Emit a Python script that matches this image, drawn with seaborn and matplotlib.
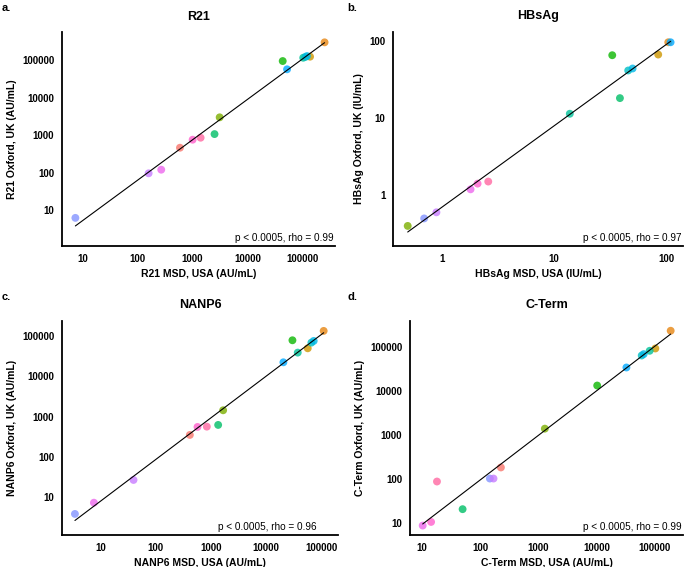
import numpy as np
import pandas as pd
import matplotlib
matplotlib.use("Agg")
import matplotlib.pyplot as plt
import seaborn as sns
from matplotlib.ticker import FixedLocator, FuncFormatter, NullLocator

sns.set_style("white")
plt.rcParams["font.family"] = ["Liberation Sans", "DejaVu Sans"]
plt.rcParams["text.color"] = "black"
plt.rcParams["axes.labelcolor"] = "black"
plt.rcParams["xtick.color"] = "black"
plt.rcParams["ytick.color"] = "black"

# ---- data (one entry per sample, NaN = not shown) ----
samples = ["S01", "S02", "S03", "S04", "S05", "S06", "S07", "S08",
           "S09", "S10", "S11", "S12", "S13", "S14", "S15"]
sample_colors = ["#F8766D", "#E68613", "#CD9600", "#7CAE00", "#0CB702",
                 "#00BE67", "#00C19A", "#00BFC4", "#00B8E7", "#00A9FF",
                 "#8494FF", "#C77CFF", "#ED68ED", "#FF61CC", "#FF68A1"]

r21_usa = [587, 258000, 140000, 3120, 44300, 2515, 105000, 115000, 123000,
           53200, 7.2, 157, 267, 1000, 1400]
r21_uk = [463, 302000, 125000, 3000, 95600, 1071, 117000, 123000, 130000,
          57500, 6.2, 96, 120, 758, 857]

hbsag_usa = [np.nan, 103.5, 84.3, 0.50, 32.9, 38.5, 13.8, 45.6, 49.9,
             108.6, 0.70, 0.90, 1.81, 2.09, 2.60]
hbsag_uk = [np.nan, 95, 65.9, 0.40, 64.6, 18.0, 11.3, 41.0, 43.5,
            95, 0.50, 0.60, 1.19, 1.41, 1.50]

nanp6_usa = [414, 110000, 56600, 1660, 29900, 1349, 37300, 65900, 72600,
             20500, 3.43, 39.5, 7.57, 570, 841]
nanp6_uk = [350, 136000, 50200, 1438, 79500, 621, 39200, 69500, 76600,
            22500, 3.78, 26.5, 7.2, 553, 563]

cterm_usa = [229, 188000, 102600, 1300, 10300, 50.4, 82000, 59800, 64700,
             32700, 148, 171, 10.4, 14.5, 18.3]
cterm_uk = [186, 240000, 94800, 1420, 13600, 20.9, 84000, 65600, 70500,
            35000, 104, 104, 8.85, 10.7, 89]

panel_letters = ["a.", "b.", "c.", "d."]
titles = ["R21", "HBsAg", "NANP6", "C-Term"]
xlabels = ["R21 MSD, USA (AU/mL)", "HBsAg MSD, USA (IU/mL)",
           "NANP6 MSD, USA (AU/mL)", "C-Term MSD, USA (AU/mL)"]
ylabels = ["R21 Oxford, UK (AU/mL)", "HBsAg Oxford, UK (IU/mL)",
           "NANP6 Oxford, UK (AU/mL)", "C-Term Oxford, UK (AU/mL)"]
stats = ["p < 0.0005, rho = 0.99", "p < 0.0005, rho = 0.97",
         "p < 0.0005, rho = 0.96", "p < 0.0005, rho = 0.99"]
decade_ticks = [10, 100, 1000, 10000, 100000]
small_ticks = [1, 10, 100]

panels = [
    dict(x=r21_usa, y=r21_uk, xlim=(4.1, 4.0e5), ylim=(1.1, 5.7e5),
         xt=decade_ticks, yt=decade_ticks, pos=(62, 32, 335, 246), sx=0.995),
    dict(x=hbsag_usa, y=hbsag_uk, xlim=(0.37, 140), ylim=(0.22, 129),
         xt=small_ticks, yt=small_ticks, pos=(393, 32, 683, 246), sx=0.995),
    dict(x=nanp6_usa, y=nanp6_uk, xlim=(2.0, 2.0e5), ylim=(1.13, 2.4e5),
         xt=decade_ticks, yt=decade_ticks, pos=(62, 321, 338, 535), sx=0.924),
    dict(x=cterm_usa, y=cterm_uk, xlim=(6.3, 3.06e5), ylim=(5.4, 4.0e5),
         xt=decade_ticks, yt=decade_ticks, pos=(410, 321, 683, 535), sx=0.995),
]

W, H = 685, 567
fig = plt.figure(figsize=(W / 100, H / 100), dpi=100)
palette = dict(zip(samples, sample_colors))
fmt = FuncFormatter(lambda v, p: f"{v:g}")

for i, pn in enumerate(panels):
    l, t, r, b = pn["pos"]
    ax = fig.add_axes([l / W, 1 - b / H, (r - l) / W, (b - t) / H])
    df = pd.DataFrame({"sample": samples, "usa": pn["x"], "uk": pn["y"]})
    ax.set_xscale("log")
    ax.set_yscale("log")
    sns.scatterplot(data=df, x="usa", y="uk", hue="sample", palette=palette,
                    s=32, alpha=0.8, linewidth=0, legend=False, ax=ax, zorder=3)
    d = df.dropna()
    lx, ly = np.log10(d["usa"].values), np.log10(d["uk"].values)
    k, c0 = np.polyfit(lx, ly, 1)
    xs = np.linspace(lx.min(), lx.max(), 50)
    ax.plot(10 ** xs, 10 ** (k * xs + c0), color="black", lw=0.8, zorder=4)

    ax.set_xlim(*pn["xlim"])
    ax.set_ylim(*pn["ylim"])
    ax.xaxis.set_major_locator(FixedLocator(pn["xt"]))
    ax.yaxis.set_major_locator(FixedLocator(pn["yt"]))
    ax.xaxis.set_minor_locator(NullLocator())
    ax.yaxis.set_minor_locator(NullLocator())
    ax.xaxis.set_major_formatter(fmt)
    ax.yaxis.set_major_formatter(fmt)
    for s in ["top", "right"]:
        ax.spines[s].set_visible(False)
    for s in ["left", "bottom"]:
        ax.spines[s].set_linewidth(1.3)
        ax.spines[s].set_color("black")
    ax.tick_params(axis="both", which="major", direction="out", length=3.5,
                   width=1.1, color="black", labelcolor="black",
                   labelsize=7, pad=2)
    for lab in ax.get_xticklabels() + ax.get_yticklabels():
        lab.set_fontweight("bold")
    ax.set_xlabel(xlabels[i], fontsize=7.5, fontweight="bold", labelpad=4,
                  color="black")
    ax.set_ylabel(ylabels[i], fontsize=7.5, fontweight="bold", labelpad=4,
                  color="black")
    ax.set_title(titles[i], fontsize=9, fontweight="bold", pad=9,
                 color="black")
    ax.text(pn["sx"], 0.025, stats[i], transform=ax.transAxes, ha="right",
            va="baseline", fontsize=7.2, color="black")
    ax.grid(False)

fig.text(2 / W, 1 - 3 / H, panel_letters[0], fontsize=8, fontweight="bold", va="top")
fig.text(347 / W, 1 - 3 / H, panel_letters[1], fontsize=8, fontweight="bold", va="top")
fig.text(2 / W, 1 - 292 / H, panel_letters[2], fontsize=8, fontweight="bold", va="top")
fig.text(347 / W, 1 - 292 / H, panel_letters[3], fontsize=8, fontweight="bold", va="top")

fig.savefig("out.png", dpi=100)
